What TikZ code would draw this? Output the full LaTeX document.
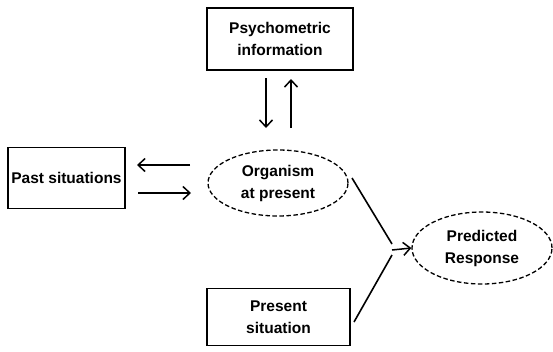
\documentclass[tikz,border=0pt]{standalone}
\usepackage{fontspec}
\setmainfont{Liberation Sans}
\usetikzlibrary{arrows.meta,shapes.geometric}
\begin{document}
\begin{tikzpicture}[x=1pt,y=-1pt,
  every node/.style={font=\bfseries\fontsize{15.5}{22}\selectfont, align=center, inner sep=0pt},
  boxnode/.style={draw, line width=1.3pt},
  dashell/.style={draw, ellipse, dashed, dash pattern=on 4.5pt off 2.5pt, line width=1.3pt},
  conn/.style={line width=1.6pt},
  arr/.style={line width=1.5pt, -{Straight Barb[length=7pt,width=13pt,line width=1.5pt]}}
]
\useasboundingbox (0,0) rectangle (553,351);
\node[boxnode, minimum width=146pt, minimum height=62pt] (psy) at (280,39) {Psychometric\\information};
\node[boxnode, minimum width=117pt, minimum height=61pt] (past) at (66.5,178) {Past situations};
\node[boxnode, minimum width=143pt, minimum height=57pt] (pres) at (278.5,317) {Present\\situation};
\node[dashell, minimum width=140pt, minimum height=66pt] (org) at (278,183) {Organism\\at present};
\node[dashell, minimum width=140pt, minimum height=72pt] (resp) at (482,248) {Predicted\\Response};
\coordinate (j1) at (392,244);
\coordinate (j2) at (392,255);
\coordinate (j) at (392,250);
\coordinate (a1) at (266,78);
\coordinate (a2) at (266,128);
\coordinate (b1) at (291,128);
\coordinate (b2) at (291,79);
\draw[arr] (a1) -- (a2);
\draw[arr] (b1) -- (b2);
\coordinate (c1) at (190,165);
\coordinate (c2) at (137,165);
\coordinate (d1) at (138,193);
\coordinate (d2) at (191,193);
\draw[arr] (c1) -- (c2);
\draw[arr] (d1) -- (d2);
\coordinate (o1) at (352,178);
\coordinate (p1) at (354,322);
\draw[conn] (o1) -- (j1);
\draw[conn] (p1) -- (j2);
\draw[arr] (j) -- (resp.west);
\end{tikzpicture}
\end{document}
